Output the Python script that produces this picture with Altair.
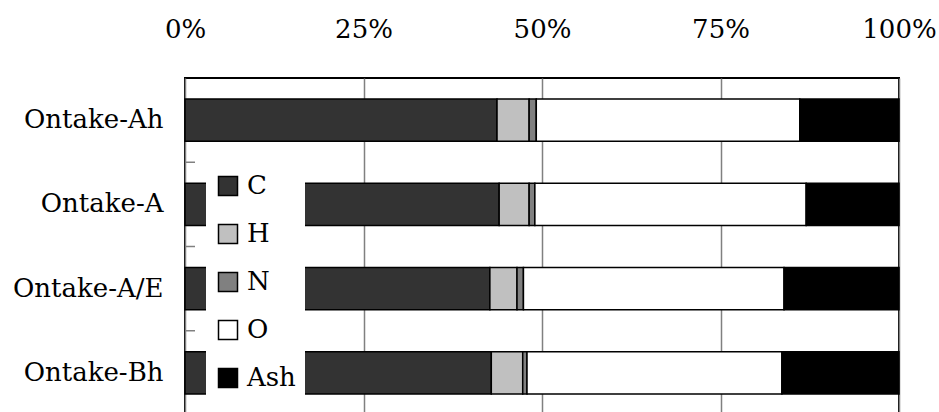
import altair as alt
import pandas as pd

# Elemental composition (wt%) of each Ontake sample
samples = ["Ontake-Ah", "Ontake-A", "Ontake-A/E", "Ontake-Bh"]
components = ["C", "H", "N", "O", "Ash"]
carbon = [43.7, 44.0, 42.7, 42.9]
hydrogen = [4.5, 4.2, 3.8, 4.4]
nitrogen = [1.0, 0.8, 0.9, 0.6]
oxygen = [36.9, 38.0, 36.5, 35.7]
ash = [13.9, 13.0, 16.1, 16.4]
fills = ["#333333", "#c0c0c0", "#808080", "#ffffff", "#000000"]
tick_values = [0, 0.25, 0.5, 0.75, 1.0]

series = [carbon, hydrogen, nitrogen, oxygen, ash]
rows = []
for ci, (comp, vals) in enumerate(zip(components, series)):
    for s, v in zip(samples, vals):
        rows.append({"sample": s, "component": comp, "share": v, "idx": ci})
df = pd.DataFrame(rows)

FONT = "DejaVu Serif"
FONT_SIZE = 26
PLOT_W = 714
PLOT_H = 337
STEP = PLOT_H / 4  # band step with paddingInner 0.5 / paddingOuter 0.25

y_scale = alt.Scale(paddingInner=0.5, paddingOuter=0.25)

bars = alt.Chart(df).mark_bar(stroke="black", strokeWidth=1.5).encode(
    x=alt.X(
        "share:Q",
        stack="normalize",
        scale=alt.Scale(domain=[0, 1], nice=False),
        axis=alt.Axis(
            orient="top",
            values=tick_values,
            format="%",
            title=None,
            domain=False,
            ticks=False,
            labelFlush=False,
            labelOverlap=False,
            labelPadding=36,
            labelFont=FONT,
            labelFontSize=FONT_SIZE,
            labelColor="black",
            grid=True,
            gridColor="#808080",
            gridWidth=1.5,
        ),
    ),
    y=alt.Y(
        "sample:N",
        sort=samples,
        scale=y_scale,
        axis=alt.Axis(
            title=None,
            domain=False,
            ticks=False,
            labelPadding=22,
            labelFont=FONT,
            labelFontSize=FONT_SIZE,
            labelColor="black",
        ),
    ),
    color=alt.Color(
        "component:N",
        scale=alt.Scale(domain=components, range=fills),
        legend=alt.Legend(
            title=None,
            orient="none",
            legendX=21,
            legendY=86,
            fillColor="white",
            padding=9,
            symbolType="square",
            symbolSize=361,
            symbolStrokeColor="black",
            symbolStrokeWidth=1.5,
            labelFont=FONT,
            labelFontSize=FONT_SIZE,
            labelColor="black",
            labelOffset=6,
            rowPadding=22,
        ),
    ),
    order=alt.Order("idx:Q"),
)

# short inward ticks midway between neighbouring categories
boundaries = alt.Chart(pd.DataFrame({"sample": samples[1:]})).mark_rule(
    color="#808080", strokeWidth=1.5, yOffset=-STEP / 4
).encode(
    y=alt.Y("sample:N", sort=samples, bandPosition=0),
    x=alt.value(0),
    x2=alt.value(10),
)

chart = (
    alt.layer(bars, boundaries)
    .properties(
        width=PLOT_W,
        height=PLOT_H,
        autosize=alt.AutoSizeParams(type="none"),
        padding={"left": 185, "top": 78, "right": 40, "bottom": 0},
    )
    .configure_view(stroke="black", strokeWidth=2)
)

chart.save("out.html", embed_options={"renderer": "svg", "actions": False})
